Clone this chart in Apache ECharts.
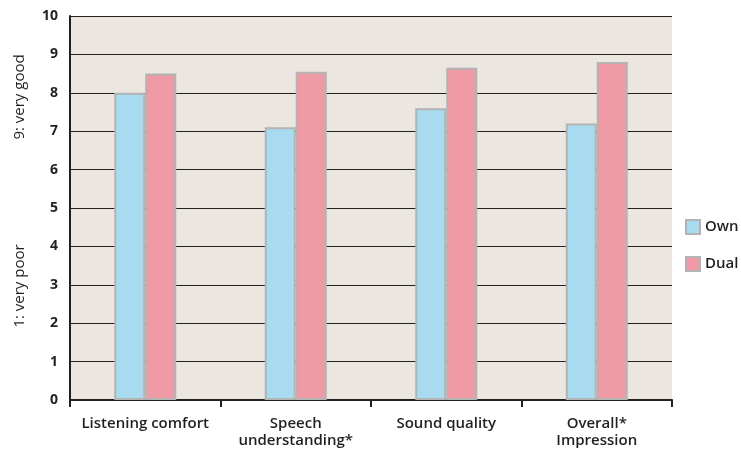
<!DOCTYPE html>
<html>
<head>
<meta charset="utf-8">
<script src="https://cdn.jsdelivr.net/npm/echarts@6/dist/echarts.min.js"></script>
<style>
  html, body { margin: 0; padding: 0; background: #ffffff; }
  #chart { width: 741px; height: 450px; }
</style>
</head>
<body>
<div id="chart"></div>
<script>
// Ratings per listening aspect (scale 1 = very poor … 9 = very good)
var categories = ['Listening comfort', 'Speech\nunderstanding*', 'Sound quality', 'Overall*\nImpression'];
var ownValues = [8.0, 7.1, 7.6, 7.2];
var dualValues = [8.5, 8.55, 8.65, 8.8];
var seriesNames = ['Own', 'Dual'];
var yTicks = [0, 1, 2, 3, 4, 5, 6, 7, 8, 9, 10];

var fontFamily = '"Open Sans", "Noto Sans", sans-serif';
var ink = '#231f20';

var chart = echarts.init(document.getElementById('chart'));
chart.setOption({
  animation: false,
  backgroundColor: '#ffffff',
  grid: { left: 70, right: 69, top: 16, bottom: 50, containLabel: false, show: true, backgroundColor: '#ebe6df', borderWidth: 0 },
  legend: {
    orient: 'vertical',
    left: 680, top: 214,
    itemWidth: 14, itemHeight: 14, itemGap: 21,
    textStyle: { fontFamily: fontFamily, fontSize: 15, fontWeight: 600, color: ink },
    data: seriesNames.map(function (n) { return { name: n, icon: 'rect' }; })
  },
  xAxis: {
    type: 'category',
    data: categories,
    axisLine: { lineStyle: { color: ink, width: 2 } },
    axisTick: { show: true, length: 7, lineStyle: { color: ink, width: 2 } },
    axisLabel: { interval: 0, fontFamily: fontFamily, fontSize: 15, fontWeight: 600, color: ink, margin: 15, lineHeight: 17 }
  },
  yAxis: {
    type: 'value',
    min: yTicks[0], max: yTicks[yTicks.length - 1], interval: 1,
    axisLine: { show: true, lineStyle: { color: ink, width: 2 } },
    axisTick: { show: false },
    splitLine: { lineStyle: { color: ink, width: 1 } },
    axisLabel: { fontFamily: fontFamily, fontSize: 14, fontWeight: 700, color: ink, margin: 12 }
  },
  series: [
    {
      name: seriesNames[0], type: 'bar', data: ownValues,
      barWidth: 31, barGap: '0%',
      itemStyle: { color: '#a8dbef', borderColor: '#b3b3b3', borderWidth: 2 }
    },
    {
      name: seriesNames[1], type: 'bar', data: dualValues,
      barWidth: 31,
      itemStyle: { color: '#ef9aa5', borderColor: '#b3b3b3', borderWidth: 2 }
    }
  ],
  graphic: [
    {
      type: 'text', x: 20, y: 97, rotation: Math.PI / 2,
      style: { text: '9: very good', fontFamily: fontFamily, fontSize: 15, fontWeight: 500, fill: ink, align: 'center', verticalAlign: 'middle' }
    },
    {
      type: 'text', x: 20, y: 286, rotation: Math.PI / 2,
      style: { text: '1: very poor', fontFamily: fontFamily, fontSize: 15, fontWeight: 500, fill: ink, align: 'center', verticalAlign: 'middle' }
    }
  ]
});
</script>
</body>
</html>
